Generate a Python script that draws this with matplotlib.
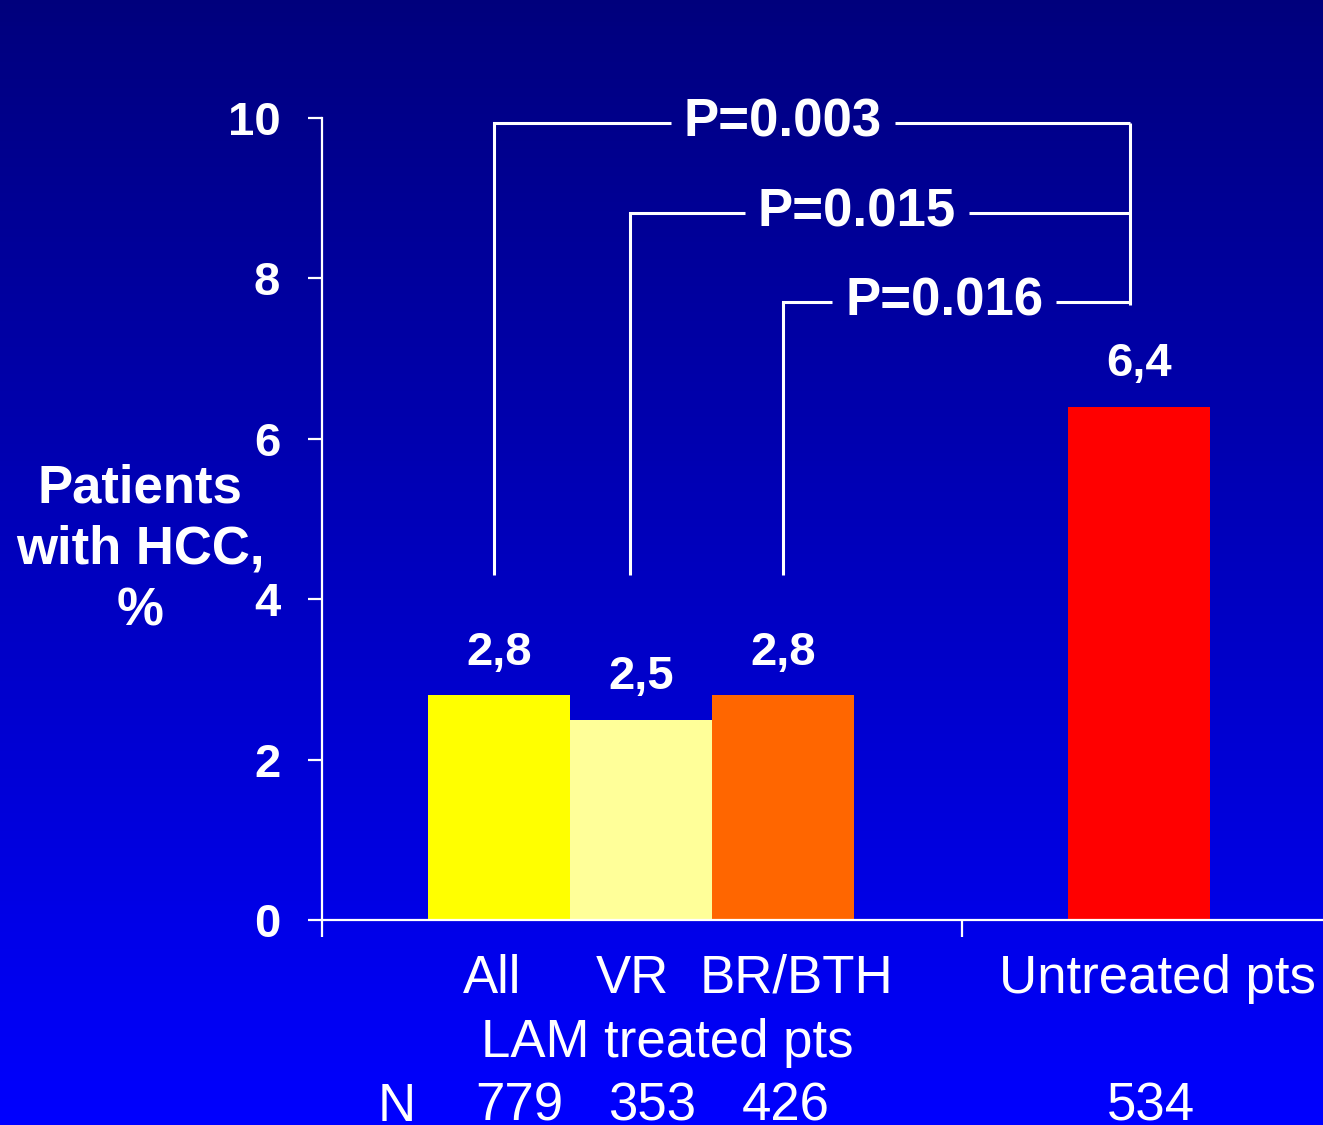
import matplotlib.pyplot as plt
import numpy as np

plt.rcParams['font.family'] = ['Liberation Sans', 'DejaVu Sans']

# bar data
groups = ['All', 'VR', 'BR/BTH', 'Untreated pts']
values = [2.8, 2.5, 2.8, 6.4]
value_labels = ['2,8', '2,5', '2,8', '6,4']
colors = ['#FFFF00', '#FFFF99', '#FF6600', '#FF0000']
n_patients = ['779', '353', '426', '534']

# comparisons against untreated pts
p_labels = ['P=0.003', 'P=0.015', 'P=0.016']
p_levels = [9.94, 8.82, 7.71]

# x positions (category 1 spans 0..1)
xpos = [0.277, 0.499, 0.721, 1.277]
width = 0.222

fig = plt.figure(figsize=(13.23, 11.25), dpi=100)

# gradient background
bg = fig.add_axes([0, 0, 1, 1], zorder=0)
grad = np.linspace(0, 1, 256).reshape(-1, 1)
img = np.zeros((256, 1, 3))
img[:, 0, 2] = 0.49 + 0.51 * grad[:, 0]
bg.imshow(img, aspect='auto', extent=[0, 1, 0, 1], origin='upper')
bg.axis('off')

ax = fig.add_axes([322 / 1323, 1 - 920 / 1125, 1 - 322 / 1323, (920 - 118) / 1125], zorder=1)
ax.patch.set_alpha(0)
ax.bar(xpos, values, width=width, color=colors, zorder=2)
ax.set_xlim(0, (1323 - 322) / 640)
ax.set_ylim(0, 10)

for s in ['top', 'right']:
    ax.spines[s].set_visible(False)
for s in ['left', 'bottom']:
    ax.spines[s].set_color('white')
    ax.spines[s].set_linewidth(1.6)

ax.set_yticks([0, 2, 4, 6, 8, 10])
ax.tick_params(axis='y', colors='white', length=10, width=1.6, labelsize=34, pad=20)
for lab in ax.get_yticklabels():
    lab.set_fontweight('bold')
ax.set_xticks([0, 1])
ax.set_xticklabels([])
ax.tick_params(axis='x', colors='white', length=12, width=1.6)

# value labels
for x, v, t in zip(xpos, values, value_labels):
    ax.annotate(t, (x, v), xytext=(0, 15), textcoords='offset points',
                ha='center', va='bottom', color='white', fontsize=34, fontweight='bold')

# category labels
trans = ax.get_xaxis_transform()
label_x = [0.266, 0.485, 0.742, 1.305]
for x, g in zip(label_x, groups):
    ax.text(x, -0.073, g, transform=trans, ha='center', va='center', color='white', fontsize=38)
ax.text(0.540, -0.153, 'LAM treated pts', transform=trans, ha='center', va='center',
        color='white', fontsize=38)
ax.text(0.117, -0.233, 'N', transform=trans, ha='center', va='center', color='white', fontsize=38)
n_x = [0.308, 0.516, 0.724, 1.296]
for x, n in zip(n_x, n_patients):
    ax.text(x, -0.233, n, transform=trans, ha='center', va='center', color='white', fontsize=38)

# y label
fig.text(140 / 1323, 1 - 550 / 1125, 'Patients\nwith HCC,\n%', ha='center', va='center',
         color='white', fontsize=38, fontweight='bold', linespacing=1.3)

# significance brackets
left_x = [0.269, 0.481, 0.720]
text_x = [0.720, 0.836, 0.972]
right_x = 1.2625
half_gap = 0.175
for lx, tx, lvl, p in zip(left_x, text_x, p_levels, p_labels):
    ax.plot([lx, lx, tx - half_gap], [4.3, lvl, lvl], color='white', lw=2.2,
            clip_on=False, solid_capstyle='butt', solid_joinstyle='miter')
    ax.plot([tx + half_gap, right_x], [lvl, lvl], color='white', lw=2.2,
            clip_on=False, solid_capstyle='butt')
    ax.annotate(p, (tx, lvl), xytext=(0, 4), textcoords='offset points',
                ha='center', va='center_baseline', color='white',
                fontsize=38, fontweight='bold')
ax.plot([right_x, right_x], [p_levels[0], 7.67], color='white', lw=2.2, clip_on=False,
        solid_capstyle='butt')

fig.savefig('out.png', dpi=100)
